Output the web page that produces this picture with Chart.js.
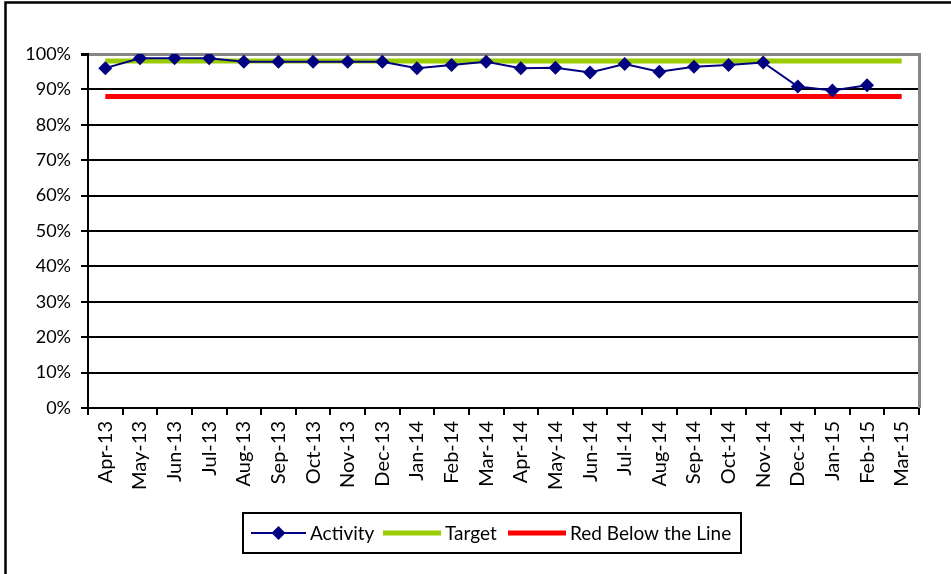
<!DOCTYPE html>
<html><head><meta charset="utf-8">
<script src="https://cdn.jsdelivr.net/npm/chart.js@4"></script>
<style>html,body{margin:0;padding:0;background:#fff;overflow:hidden}#wrap{position:relative;width:951px;height:574px}</style>
</head><body><div id="wrap"><canvas id="c" width="951" height="574"></canvas></div>
<script>
const categories = ['Apr-13','May-13','Jun-13','Jul-13','Aug-13','Sep-13','Oct-13','Nov-13','Dec-13','Jan-14','Feb-14','Mar-14','Apr-14','May-14','Jun-14','Jul-14','Aug-14','Sep-14','Oct-14','Nov-14','Dec-14','Jan-15','Feb-15','Mar-15'];
const activity = [96.0, 98.8, 98.8, 98.8, 97.8, 97.8, 97.8, 97.8, 97.8, 96.0, 96.9, 97.8, 96.0, 96.1, 94.8, 97.2, 95.0, 96.4, 96.9, 97.6, 90.8, 89.7, 91.2, null];
const target = [98, 98, 98, 98, 98, 98, 98, 98, 98, 98, 98, 98, 98, 98, 98, 98, 98, 98, 98, 98, 98, 98, 98, 98];
const redLine = [88, 88, 88, 88, 88, 88, 88, 88, 88, 88, 88, 88, 88, 88, 88, 88, 88, 88, 88, 88, 88, 88, 88, 88];
const seriesNames = ['Activity', 'Target', 'Red Below the Line'];
const yTickSuffix = '%';

const FONT = 'Lato';
const NAVY = '#000080', GREEN = '#99CC00', RED = '#FF0000', GRAY = '#868686';

const framePlugin = {
  id: 'frame',
  beforeDraw(chart) {
    const ctx = chart.ctx;
    ctx.save();
    ctx.fillStyle = '#fff';
    ctx.fillRect(0, 0, chart.width, chart.height);
    ctx.strokeStyle = '#000';
    ctx.lineWidth = 2.5;
    ctx.beginPath();
    ctx.moveTo(5.5, chart.height + 2);
    ctx.lineTo(5.5, 2.5);
    ctx.lineTo(chart.width + 2, 2.5);
    ctx.stroke();
    ctx.restore();
  },
  afterDraw(chart) {
    const ctx = chart.ctx, a = chart.chartArea;
    ctx.save();
    ctx.strokeStyle = GRAY;
    ctx.lineWidth = 3;
    ctx.beginPath();
    ctx.moveTo(a.right + 0.5, a.top - 1);
    ctx.lineTo(a.right + 0.5, a.bottom);
    ctx.stroke();
    // legend
    const bx = 243, by = 513, bw = 498, bh = 40, cy = by + bh / 2;
    ctx.strokeStyle = '#000';
    ctx.lineWidth = 2;
    ctx.strokeRect(bx, by, bw, bh);
    ctx.font = '19px ' + FONT;
    ctx.fillStyle = '#000';
    ctx.textBaseline = 'middle';
    ctx.textAlign = 'left';
    const items = [
      {x0: 251, x1: 306, color: NAVY, w: 2, marker: true, tx: 310},
      {x0: 383, x1: 441, color: GREEN, w: 5, marker: false, tx: 445},
      {x0: 508, x1: 566, color: RED, w: 5, marker: false, tx: 570}
    ];
    items.forEach((it, i) => {
      ctx.strokeStyle = it.color;
      ctx.lineWidth = it.w;
      ctx.beginPath();
      ctx.moveTo(it.x0, cy);
      ctx.lineTo(it.x1, cy);
      ctx.stroke();
      if (it.marker) {
        const mx = (it.x0 + it.x1) / 2, r = 7;
        ctx.fillStyle = NAVY;
        ctx.beginPath();
        ctx.moveTo(mx, cy - r); ctx.lineTo(mx + r, cy); ctx.lineTo(mx, cy + r); ctx.lineTo(mx - r, cy);
        ctx.closePath();
        ctx.fill();
      }
      ctx.fillStyle = '#000';
      ctx.fillText(seriesNames[i], it.tx, cy + 1);
    });
    ctx.restore();
  }
};

new Chart(document.getElementById('c'), {
  type: 'line',
  data: {
    labels: categories,
    datasets: [
      {label: seriesNames[0], data: activity, borderColor: NAVY, backgroundColor: NAVY, borderWidth: 2,
       pointStyle: 'rectRot', pointRadius: 7, pointHoverRadius: 7, pointBorderWidth: 0, tension: 0, spanGaps: false},
      {label: seriesNames[1], data: target, borderColor: GREEN, backgroundColor: GREEN, borderWidth: 5, pointRadius: 0, tension: 0},
      {label: seriesNames[2], data: redLine, borderColor: RED, backgroundColor: RED, borderWidth: 5, pointRadius: 0, tension: 0}
    ]
  },
  options: {
    responsive: false,
    animation: false,
    devicePixelRatio: 1,
    layout: {padding: {left: 0, top: 54, right: 32, bottom: 0}},
    plugins: {legend: {display: false}, tooltip: {enabled: false}},
    scales: {
      x: {
        type: 'category',
        offset: true,
        grid: {offset: true, drawOnChartArea: false, drawTicks: true, tickLength: 7, color: '#000', lineWidth: 2},
        border: {color: '#000', width: 2},
        ticks: {minRotation: 90, maxRotation: 90, autoSkip: false, padding: 6, color: '#000', font: {family: FONT, size: 20}},
        afterFit(s) { s.height = 166; }
      },
      y: {
        min: 0, max: 100,
        grid: {color: ctx => (ctx.tick && ctx.tick.value === 100) ? GRAY : '#000', tickColor: '#000', lineWidth: ctx => (ctx.tick && ctx.tick.value === 100) ? 3 : 2, tickLength: 7, drawTicks: true},
        border: {color: '#000', width: 2},
        ticks: {stepSize: 10, padding: 10, color: '#000', font: {family: FONT, size: 18}, callback: v => v + yTickSuffix},
        afterFit(s) { s.width = 88; }
      }
    }
  },
  plugins: [framePlugin]
});
</script>
</body></html>
